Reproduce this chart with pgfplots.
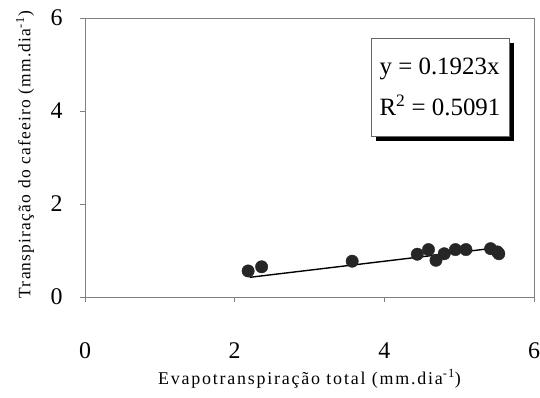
\documentclass[border=0pt]{standalone}
\usepackage{pgfplots}
\pgfplotsset{compat=1.18}
\usepackage{fontspec}
\setmainfont{Liberation Serif}
\newfontfamily\spaced[LetterSpace=10]{Liberation Serif}
\newfontfamily\spacedy[LetterSpace=7]{Liberation Serif}
\usetikzlibrary{shadows}
\begin{document}
\begin{tikzpicture}[x=1bp,y=1bp]
\begin{axis}[
  at={(85bp,100bp)}, anchor=origin,
  scale only axis, width=449bp, height=279bp,
  xmin=0, xmax=6, ymin=0, ymax=6,
  xtick={0,2,4,6}, ytick={0,2,4,6},
  axis line style={draw=black!50, line width=0.8pt},
  tick style={draw=black!50, line width=0.8pt},
  tick align=outside, major tick length=5bp,
  xtick pos=bottom, ytick pos=left,
  /pgf/number format/assume math mode=true,
  ticklabel style={font=\fontsize{24}{24}\selectfont},
  xticklabel style={yshift=-37bp},
  yticklabel style={xshift=-14bp},
  xlabel={\spaced\fontsize{18}{18}\selectfont Evapotranspiração total (mm.dia\textsuperscript{-1})},
  ylabel={\spacedy\fontsize{17.5}{17.5}\selectfont Transpiração do cafeeiro (mm.dia\textsuperscript{-1})},
  xlabel style={at={(axis description cs:0.5,0)}, anchor=base, yshift=-87bp},
  ylabel style={at={(axis description cs:0,0.51)}, anchor=center, yshift=60bp},
  clip=false,
]
\addplot[only marks, mark=*, mark size=6.2bp, mark options={fill=black!85, draw=black!85}] coordinates {
(2.18,0.56) (2.36,0.65) (3.57,0.77) (4.44,0.92) (4.59,1.02) (4.69,0.79)
(4.80,0.93) (4.95,1.02) (5.09,1.02) (5.42,1.04) (5.51,0.97) (5.53,0.93)
};
\addplot[black, line width=1.4pt] coordinates {(2.2,0.4231) (5.55,1.0673)};
\node[draw=black!60, line width=0.6pt, fill=white,
  drop shadow={shadow xshift=5bp, shadow yshift=-5bp, fill=black, opacity=1},
  minimum width=138bp, minimum height=98bp, align=left,
  font=\fontsize{25}{41}\selectfont]
  at (axis cs:4.744,4.52) {y = 0.1923x\\R\textsuperscript{2} = 0.5091};
\end{axis}
\pgfresetboundingbox
\path[use as bounding box] (0,0) rectangle (540,397);
\end{tikzpicture}
\end{document}
